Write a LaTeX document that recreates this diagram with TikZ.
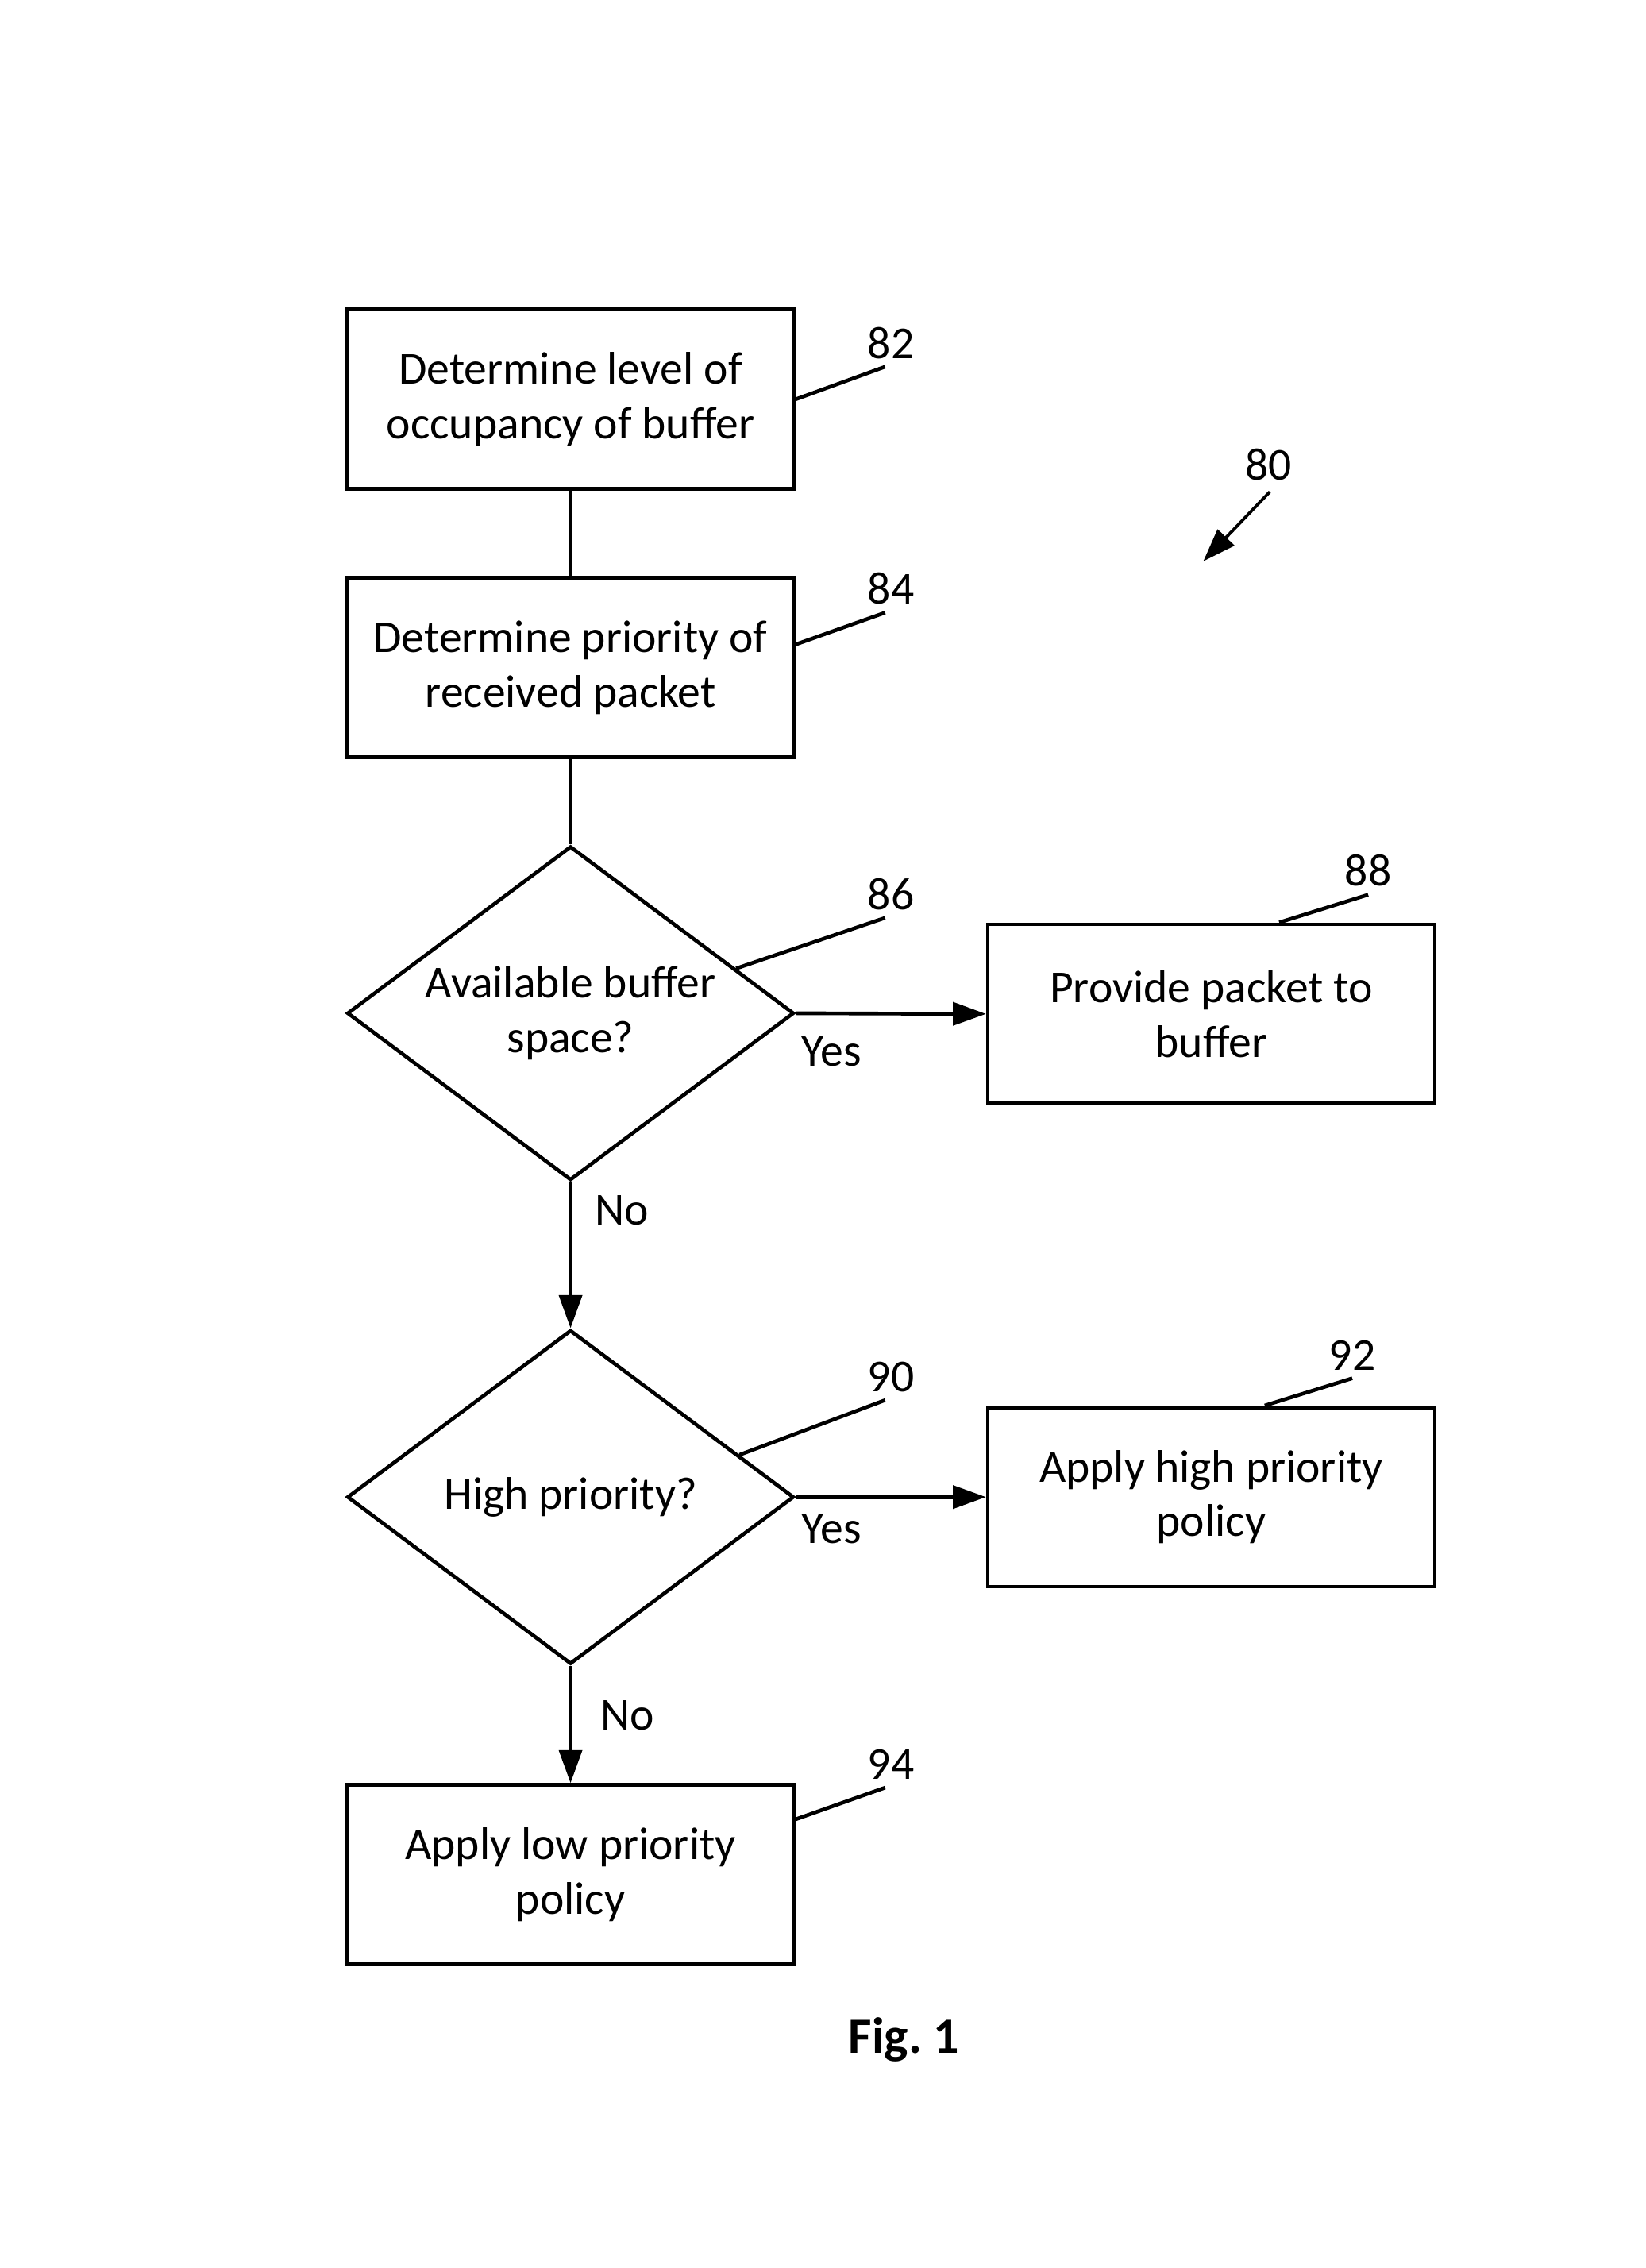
\documentclass[tikz,border=0pt]{standalone}
\usepackage{fontspec}
\setmainfont{Carlito}
\usetikzlibrary{shapes.geometric, arrows.meta, calc}

\begin{document}
\begin{tikzpicture}[x=0.02cm, y=-0.02cm,
	box/.style={draw, line width=1.45pt, minimum width=6.18cm, minimum height=2.48cm, align=center, font=\fontsize{18}{21.5}\selectfont},
	decide/.style={draw, line width=1.45pt, diamond, aspect=1.34, inner sep=0pt, minimum width=6.18cm, minimum height=4.62cm, align=center, font=\fontsize{18}{21.5}\selectfont},
	num/.style={inner sep=3pt, font=\fontsize{18}{21.5}\selectfont},
	lead/.style={line width=1.45pt},
	flow/.style={line width=1.45pt, -{Triangle[length=13pt, width=9pt]}}]
			\useasboundingbox (0,0) rectangle (1138,1568);
			\node[box] (b82) at (394.5,276) {Determine level of\\occupancy of buffer};
			\node[box] (b84) at (394.5,461.5) {Determine priority of\\received packet};
			\node[decide] (d86) at (394.5,700.5) {Available buffer\\space?};
			\node[box] (b88) at (837.5,701) {Provide packet to\\buffer};
			\node[decide] (d90) at (394.5,1035) {High priority?};
			\node[box] (b92) at (837.5,1035) {Apply high priority\\policy};
			\node[box] (b94) at (394.5,1296) {Apply low priority\\policy};
			\draw[lead] (b82) -- (b84);
			\draw[lead] (b84) -- (d86);
			\draw[flow] (d86.east) -- (b88.west);
			\draw[flow] (d86.south) -- (d90.north);
			\draw[flow] (d90.east) -- (b92.west);
			\draw[flow] (d90.south) -- (b94.north);
			\node[num] (yes86) at (575,727) {Yes};
			\node[num] (no86) at (430,837) {No};
			\node[num] (yes90) at (575,1057) {Yes};
			\node[num] (no90) at (434,1186) {No};
			\node[num] (l82) at (616,237) {82};
			\node[num] (l84) at (616,407) {84};
			\node[num] (l86) at (616,618) {86};
			\node[num] (l88) at (946,602) {88};
			\node[num] (l90) at (616,952) {90};
			\node[num] (l92) at (935,937) {92};
			\node[num] (l94) at (616,1220) {94};
			\node[num] (l80) at (877,321) {80};
			\draw[lead] (b82.east) -- ([xshift=-0.08cm]l82.south);
			\draw[lead] ($(b84.east)+(0,-16)$) -- ([xshift=-0.08cm]l84.south);
			\draw[lead] ($(d86.north)!.735!(d86.east)$) -- ([xshift=-0.08cm]l86.south);
			\draw[lead] ($(b88.north)+(47,0)$) -- (l88.south);
			\draw[lead] ($(d90.north)!.75!(d90.east)$) -- ([xshift=-0.08cm]l90.south);
			\draw[lead] ($(b92.north)+(37,0)$) -- (l92.south);
			\draw[lead] ($(b94.north east)+(0,25)$) -- ([xshift=-0.08cm]l94.south);
			\coordinate (tail80) at (878,340);
			\coordinate (tip80) at (832,388);
			\draw[line width=1.2pt, -{Triangle[length=13pt, width=9pt]}] (tail80) -- (tip80);
			\node[font=\fontsize{20}{24}\selectfont\bfseries] (fig) at (625,1410) {Fig.~1};
\end{tikzpicture}
\end{document}
